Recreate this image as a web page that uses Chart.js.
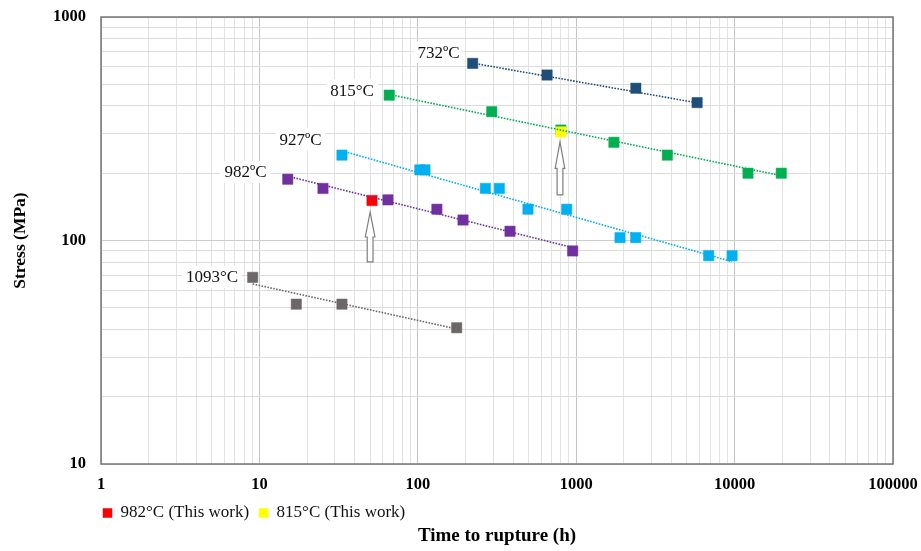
<!DOCTYPE html>
<html>
<head>
<meta charset="utf-8">
<script src="https://cdn.jsdelivr.net/npm/chart.js@4.4.1/dist/chart.umd.min.js"></script>
<style>
html,body{margin:0;padding:0;background:#ffffff;}
#wrap{width:921px;height:551px;position:relative;}
</style>
</head>
<body>
<div id="wrap"><canvas id="c" width="921" height="551"></canvas></div>
<script>
// ---------- data ----------
const xTickLabels = [1, 10, 100, 1000, 10000, 100000];
const yTickLabels = [10, 100, 1000];

// rupture time (h) and stress (MPa) per temperature
const t732  = [222, 655, 2380, 5800];
const s732  = [620, 550, 480, 414];
const t815  = [66, 293, 800, 1730, 3760, 12150, 19700];
const s815  = [447, 377, 312, 275, 241, 200, 200];
const t927  = [33.2, 103, 111, 267, 327, 496, 871, 1890, 2375, 6860, 9640];
const s927  = [241, 207, 207, 171, 171, 138, 138, 103, 103, 85.5, 85.5];
const t982  = [15.1, 25.2, 64.8, 132, 193, 382, 950];
const s982  = [188, 171, 152, 138, 123.5, 110, 89.8];
const t1093 = [9.07, 17.1, 33.2, 176];
const s1093 = [68.4, 51.9, 51.9, 40.7];

// this work
const tWork982 = [51.4];
const sWork982 = [151];
const tWork815 = [800];
const sWork815 = [306];

// trend line end points
const trend732t  = [222, 5800];   const trend732s  = [622, 413];
const trend815t  = [66, 19700];   const trend815s  = [450, 195];
const trend927t  = [33.2, 9640];  const trend927s  = [252, 80.4];
const trend982t  = [15.1, 950];   const trend982s  = [194, 93];
const trend1093t = [9.07, 176];   const trend1093s = [63.9, 40.2];

// temperature labels: text and data-space anchor (time, stress)
const seriesLabelText = ['732ºC', '815°C', '927ºC', '982ºC', '1093°C'];
const seriesLabelT    = [135, 38.4, 18.2, 8.17, 5.02];
const seriesLabelS    = [697, 471, 284, 202.5, 68.7];

// arrows pointing to this-work points: time, tip stress, tail stress
const arrowT    = [50, 790];
const arrowTip  = [134, 276];
const arrowTail = [80.2, 160];

// ---------- styling ----------
const SERIF = "'Liberation Serif','Times New Roman',serif";
const C732 = '#1F4E79', C815 = '#00B050', C927 = '#00B0F0', C982 = '#7030A0', C1093 = '#6D6868';

function pts(t, s){ return t.map((x, i) => ({x: x, y: s[i]})); }
function isDecade(v){ const l = Math.log10(v); return Math.abs(l - Math.round(l)) < 1e-6; }
function logTicks(min, max){
  const out = [];
  for (let e = Math.floor(Math.log10(min)); e <= Math.ceil(Math.log10(max)); e++){
    for (let m = 1; m <= 9; m++){
      const v = Number((m * Math.pow(10, e)).toPrecision(6));
      if (v >= min * 0.9999 && v <= max * 1.0001) out.push({value: v});
    }
  }
  return out;
}
function scatterSet(label, t, s, color, order){
  return {type:'scatter', label:label, data:pts(t, s), backgroundColor:color, borderColor:color,
    pointStyle:'rect', pointRadius:7.3, pointHoverRadius:7.3, borderWidth:0.5, order:order};
}
function trendSet(t, s, color){
  return {type:'line', label:'trend', data:pts(t, s), borderColor:color, backgroundColor:color,
    borderWidth:1.6, borderDash:[1.6, 1.4], pointRadius:0, pointHoverRadius:0, fill:false,
    showLine:true, tension:0, order:0};
}

const datasets = [
  scatterSet('732ºC', t732, s732, C732, 3),
  scatterSet('815°C', t815, s815, C815, 3),
  scatterSet('927ºC', t927, s927, C927, 3),
  scatterSet('982ºC', t982, s982, C982, 3),
  scatterSet('1093°C', t1093, s1093, C1093, 3),
  scatterSet('982°C (This work)', tWork982, sWork982, '#FF0000', 2),
  scatterSet('815°C (This work)', tWork815, sWork815, '#FFFF00', 2),
  trendSet(trend732t, trend732s, C732),
  trendSet(trend815t, trend815s, C815),
  trendSet(trend927t, trend927s, C927),
  trendSet(trend982t, trend982s, C982),
  trendSet(trend1093t, trend1093s, C1093)
];

// plot border + legend nudge + labels + arrows
const decorPlugin = {
  id: 'decor',
  afterLayout(chart){
    const lg = chart.legend;
    if (lg){ lg.left -= 8; lg.right -= 8; lg.top -= 1.5; lg.bottom -= 1.5; }
  },
  beforeDatasetsDraw(chart){
    const {ctx, chartArea:a} = chart;
    ctx.save();
    ctx.strokeStyle = '#767676';
    ctx.lineWidth = 1.5;
    ctx.strokeRect(a.left, a.top, a.right - a.left, a.bottom - a.top);
    ctx.restore();
  },
  afterDatasetsDraw(chart){
    const {ctx} = chart;
    const xs = chart.scales.x, ys = chart.scales.y;
    ctx.save();
    // temperature labels with white background
    ctx.font = '17px ' + SERIF;
    ctx.textAlign = 'center';
    ctx.textBaseline = 'middle';
    seriesLabelText.forEach((txt, i) => {
      const px = xs.getPixelForValue(seriesLabelT[i]);
      const py = ys.getPixelForValue(seriesLabelS[i]);
      const w = ctx.measureText(txt).width;
      ctx.fillStyle = '#ffffff';
      ctx.fillRect(px - w / 2 - 4, py - 11, w + 8, 22);
      ctx.fillStyle = '#111111';
      ctx.fillText(txt, px, py + 1);
    });
    // block arrows
    arrowT.forEach((t, i) => {
      const x = xs.getPixelForValue(t);
      const yTip = ys.getPixelForValue(arrowTip[i]);
      const yTail = ys.getPixelForValue(arrowTail[i]);
      const len = yTail - yTip;
      const yBase = yTip + len * 0.5;
      const hw = 4.8, sw = 2.9;
      ctx.beginPath();
      ctx.moveTo(x, yTip);
      ctx.lineTo(x + hw, yBase);
      ctx.lineTo(x + sw, yBase);
      ctx.lineTo(x + sw, yTail);
      ctx.lineTo(x - sw, yTail);
      ctx.lineTo(x - sw, yBase);
      ctx.lineTo(x - hw, yBase);
      ctx.closePath();
      ctx.fillStyle = '#ffffff';
      ctx.fill();
      ctx.strokeStyle = '#7f7f7f';
      ctx.lineWidth = 1.2;
      ctx.stroke();
    });
    ctx.restore();
  }
};

const tickFont = {family: SERIF, size: 16.5, weight: 'bold'};

new Chart(document.getElementById('c'), {
  type: 'scatter',
  data: {datasets: datasets},
  plugins: [decorPlugin],
  options: {
    responsive: false,
    animation: false,
    events: [],
    layout: {padding: {left: 5.5, right: 28, top: 17, bottom: 0}},
    plugins: {
      tooltip: {enabled: false},
      legend: {
        display: true,
        position: 'bottom',
        align: 'start',
        fullSize: false,
        maxHeight: 28.2,
        labels: {
          filter: (item) => item.text.indexOf('This work') >= 0,
          font: {family: SERIF, size: 17},
          color: '#111111',
          boxWidth: 9,
          boxHeight: 9,
          padding: 10
        }
      },
      title: {
        display: true,
        text: 'Time to rupture (h)',
        position: 'bottom',
        fullSize: false,
        color: '#000000',
        font: {family: SERIF, size: 19, weight: 'bold'},
        padding: {top: 0, bottom: 4}
      }
    },
    scales: {
      x: {
        type: 'logarithmic',
        min: 1, max: 100000,
        afterBuildTicks: (s) => { s.ticks = logTicks(1, 100000); },
        afterFit: (s) => { s.height = 32; },
        ticks: {
          autoSkip: false, maxRotation: 0, minRotation: 0,
          font: tickFont, color: '#000000', padding: 0,
          callback: (v) => (isDecade(v) && xTickLabels.some(l => Math.abs(l - v) < 1e-6 * l)) ? String(Math.round(v)) : ''
        },
        grid: {
          drawTicks: true,
          tickLength: 11,
          tickColor: 'rgba(0,0,0,0)',
          lineWidth: 1,
          color: (c) => (c.tick && isDecade(c.tick.value)) ? '#C4C4C4' : '#E3E3E3'
        },
        border: {display: false}
      },
      y: {
        type: 'logarithmic',
        min: 10, max: 1000,
        afterBuildTicks: (s) => { s.ticks = logTicks(10, 1000); },
        afterFit: (s) => { s.width = 95.5; },
        ticks: {
          autoSkip: false,
          font: tickFont, color: '#000000', padding: 0,
          callback: (v) => (isDecade(v) && yTickLabels.some(l => Math.abs(l - v) < 1e-6 * l)) ? String(Math.round(v)) : ''
        },
        grid: {
          drawTicks: true,
          tickLength: 15,
          tickColor: 'rgba(0,0,0,0)',
          lineWidth: 1,
          color: (c) => (c.tick && isDecade(c.tick.value)) ? '#CDCDCD' : '#DDDDDD'
        },
        border: {display: false},
        title: {
          display: true,
          text: 'Stress (MPa)',
          color: '#000000',
          font: {family: SERIF, size: 17.5, weight: 'bold'},
          padding: {top: 4, bottom: 0}
        }
      }
    }
  }
});
</script>
</body>
</html>
